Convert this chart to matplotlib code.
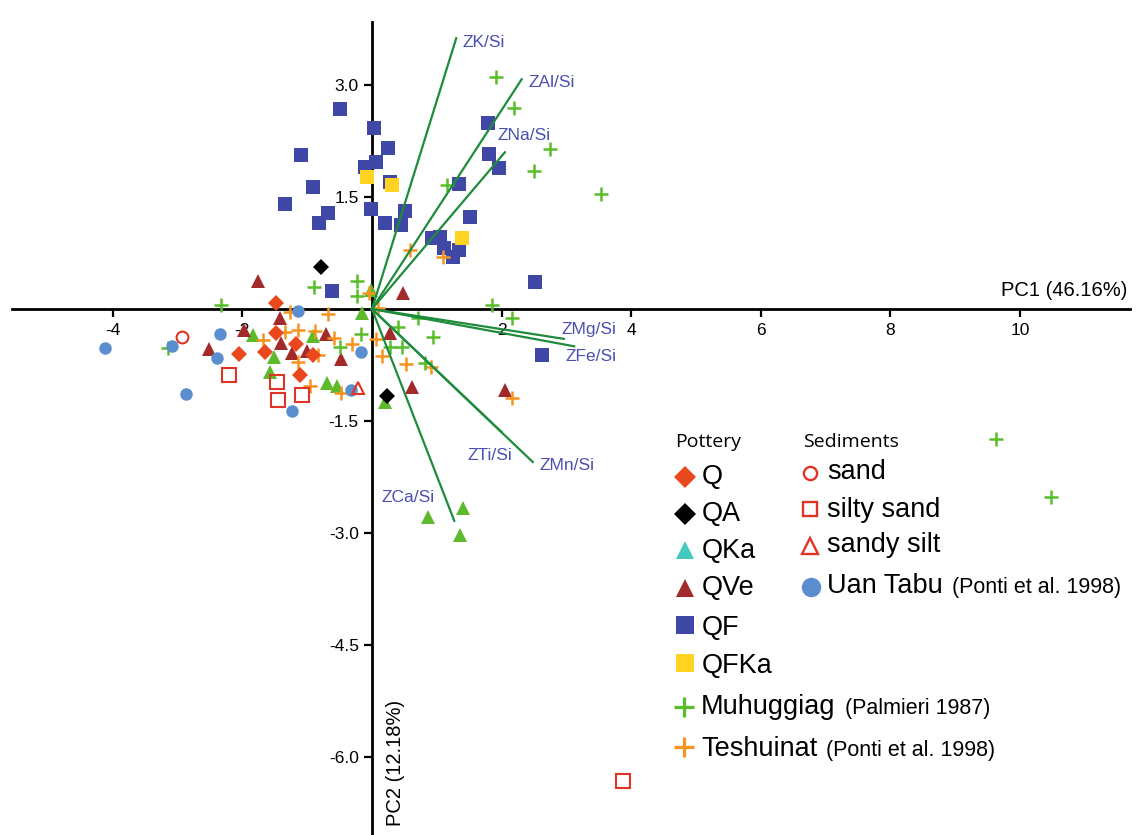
import matplotlib.pyplot as plt
from matplotlib.lines import Line2D

plt.rcParams['font.family'] = ['Liberation Sans', 'DejaVu Sans']
plt.rcParams['axes.unicode_minus'] = False

# PCA scores (PC1, PC2)
q_x = [-1.48, -1.48, -2.05, -1.65, -1.17, -0.91, -1.11]
q_y = [0.08, -0.32, -0.60, -0.58, -0.47, -0.62, -0.88]

qa_x = [-0.79, 0.23]
qa_y = [0.56, -1.17]

qka_x = [-1.84, -0.91, -1.51, -1.57, -0.69, -0.54, -0.15, -0.02, 0.20, 0.86, 1.40, 1.36]
qka_y = [-0.35, -0.36, -0.64, -0.84, -0.99, -1.03, -0.05, 0.25, -1.25, -2.79, -2.67, -3.03]

qve_x = [-1.76, -2.52, -1.98, -1.42, -1.40, -1.23, -1.00, -0.71, -0.48, 0.48, 0.28, 0.62, 2.05]
qve_y = [0.38, -0.54, -0.28, -0.12, -0.46, -0.59, -0.56, -0.34, -0.67, 0.21, -0.32, -1.05, -1.09]

qf_x = [-0.49, 0.03, 0.25, -1.10, -0.11, 0.06, -0.91, 0.28, -1.34, -0.68, -0.02, -0.82, 0.20, 0.51,
        0.45, -0.62, 1.79, 1.81, 1.96, 1.34, 1.51, 0.93, 1.05, 1.11, 1.34, 1.25, 2.52, 2.62]
qf_y = [2.68, 2.43, 2.16, 2.06, 1.90, 1.97, 1.64, 1.70, 1.41, 1.29, 1.34, 1.15, 1.15, 1.31,
        1.13, 0.24, 2.49, 2.08, 1.89, 1.68, 1.23, 0.95, 0.97, 0.82, 0.79, 0.70, 0.36, -0.62]

qfka_x = [-0.08, 0.31, 1.39]
qfka_y = [1.77, 1.66, 0.95]

muh_x = [-2.33, -3.15, -0.90, -0.23, -0.23, -0.17, -0.49, 0.71, 0.40, 0.94, 0.28, 0.46, 0.82,
         1.85, 2.16, 1.91, 2.19, 2.75, 2.50, 3.53, 1.16, 9.63, 10.48]
muh_y = [0.05, -0.52, 0.29, 0.38, 0.17, -0.34, -0.51, -0.12, -0.24, -0.38, -0.51, -0.51, -0.72,
         0.05, -0.12, 3.11, 2.69, 2.14, 1.85, 1.54, 1.66, -1.74, -2.52]

tes_x = [-1.27, -0.68, -1.68, -1.34, -1.14, -0.88, -0.59, -0.31, 0.06, -0.83, -1.14, -0.96, -0.48,
         0.09, -0.05, 0.15, 0.52, 0.91, 2.16, 0.59, 1.10]
tes_y = [-0.04, -0.07, -0.42, -0.31, -0.28, -0.29, -0.39, -0.47, -0.40, -0.62, -0.71, -1.03, -1.13,
         0.01, 0.21, -0.63, -0.74, -0.78, -1.19, 0.79, 0.70]

uan_x = [-4.12, -3.09, -2.35, -2.39, -2.87, -1.14, -0.17, -0.32, -1.23]
uan_y = [-0.52, -0.50, -0.34, -0.66, -1.14, -0.03, -0.58, -1.09, -1.37]

sand_x = [-2.93]
sand_y = [-0.38]
silty_x = [-2.21, -1.47, -1.45, -1.08, 3.87]
silty_y = [-0.88, -0.98, -1.22, -1.15, -6.33]
sandysilt_x = [-0.22]
sandysilt_y = [-1.06]

# loadings: end of arrow and label anchor
vec_names = ['ZK/Si', 'ZAl/Si', 'ZNa/Si', 'ZMg/Si', 'ZFe/Si', 'ZMn/Si', 'ZTi/Si', 'ZCa/Si']
vec_x = [1.30, 2.31, 2.05, 2.96, 3.12, 2.48, 2.00, 1.27]
vec_y = [3.63, 3.08, 2.10, -0.40, -0.50, -2.05, -1.65, -2.84]
lab_x = [1.39, 2.41, 1.93, 2.92, 2.98, 2.58, 1.48, 0.15]
lab_y = [3.57, 3.04, 2.33, -0.27, -0.64, -2.10, -1.96, -2.53]

xticks = [-4, -2, 2, 4, 6, 8, 10]
yticks = [3.0, 1.5, -1.5, -3.0, -4.5, -6.0]

c_q = '#E8481C'
c_qka = '#5DBB2B'
c_qka_key = '#45C8BE'
c_qve = '#A32A2A'
c_qf = '#3F48A6'
c_qfka = '#FFD320'
c_muh = '#58BE2B'
c_tes = '#F7941E'
c_uan = '#5B8ECF'
c_sed = '#E03526'
c_vec = '#1E8C3C'
c_lab = '#4A50B0'

W, H = 1145, 835
fig = plt.figure(figsize=(W / 100, H / 100), dpi=100)
ax = fig.add_axes([0, 0, 1, 1])
ax.set_xlim(-372 / 64.8, (W - 372) / 64.8)
ax.set_ylim((309 - H) / 74.6, 309 / 74.6)

for s in ['top', 'right']:
    ax.spines[s].set_visible(False)
ax.spines['left'].set_position(('data', 0))
ax.spines['bottom'].set_position(('data', 0))
ax.spines['left'].set_linewidth(2)
ax.spines['bottom'].set_linewidth(2)
ax.spines['bottom'].set_bounds(-5.56, 11.70)
ax.spines['left'].set_bounds(-7.1, 3.85)

ax.set_xticks(xticks)
ax.set_xticklabels([str(t) for t in xticks])
ax.set_yticks(yticks)
ax.set_yticklabels(['%.1f' % t for t in yticks])
ax.tick_params(axis='x', direction='out', length=6, width=1.6, labelsize=12.5, pad=4)
ax.tick_params(axis='y', direction='out', length=6, width=1.6, labelsize=12.5, pad=3.5)

pk = dict(ls='none')
ax.plot(qf_x, qf_y, marker='s', ms=10, color=c_qf, mew=0, zorder=3, **pk)
ax.plot(qfka_x, qfka_y, marker='s', ms=10, color=c_qfka, mew=0, zorder=3, **pk)
ax.plot(qka_x, qka_y, marker='^', ms=9.5, color=c_qka, mew=0, zorder=3, **pk)
ax.plot(qve_x, qve_y, marker='^', ms=9.5, color=c_qve, mew=0, zorder=3, **pk)
ax.plot(tes_x, tes_y, marker='+', ms=10.5, color=c_tes, mew=1.8, zorder=3, **pk)
ax.plot(muh_x, muh_y, marker='+', ms=10.5, color=c_muh, mew=1.8, zorder=3, **pk)
ax.plot(q_x, q_y, marker='D', ms=8.3, color=c_q, mew=0, zorder=3, **pk)
ax.plot(qa_x, qa_y, marker='D', ms=8.3, color='black', mew=0, zorder=3, **pk)
ax.plot(uan_x, uan_y, marker='o', ms=9, color=c_uan, mew=0, zorder=4, **pk)
ax.plot(sand_x, sand_y, marker='o', ms=8.5, mfc='none', mec=c_sed, mew=1.5, zorder=4, **pk)
ax.plot(silty_x, silty_y, marker='s', ms=9.5, mfc='none', mec=c_sed, mew=1.5, zorder=4, **pk)
ax.plot(sandysilt_x, sandysilt_y, marker='^', ms=9, mfc='none', mec=c_sed, mew=1.5, zorder=4, **pk)

for name, vx, vy, tx, ty in zip(vec_names, vec_x, vec_y, lab_x, lab_y):
    ax.plot([0, vx], [0, vy], color=c_vec, lw=1.6, zorder=5)
    ax.text(tx, ty, name, color=c_lab, fontsize=12.5, ha='left', va='center', zorder=6)

ax.text(11.65, 0.25, 'PC1 (46.16%)', fontsize=14.5, ha='right', va='center')
ax.text(0.37, -6.08, 'PC2 (12.18%)', fontsize=14.5, rotation=90, ha='center', va='center')

# legend, drawn by hand in pixel positions
def key(px, py, marker, color, ms, filled=True, mew=0):
    fig.add_artist(Line2D([px / W], [1 - py / H], marker=marker, ms=ms, ls='none',
                          mfc=color if filled else 'none', mec=color, mew=mew,
                          transform=fig.transFigure))

def label(px, py, txt, size=19.5, note=None, family=None):
    kw = {'family': family} if family else {}
    t = fig.text(px / W, 1 - py / H, txt, fontsize=size, ha='left', va='baseline', **kw)
    if note:
        fig.canvas.draw()
        bb = t.get_window_extent()
        fig.text((bb.x1 + 9) / W, 1 - py / H, note, fontsize=15.5, ha='left', va='baseline')

label(675, 447, 'Pottery', size=14, family=['Open Sans', 'DejaVu Sans'])
label(803, 447, 'Sediments', size=14, family=['Open Sans', 'DejaVu Sans'])

pottery = [('Q', 'D', c_q, 11, 477, 484),
           ('QA', 'D', 'black', 11, 514, 521),
           ('QKa', '^', c_qka_key, 12.5, 550, 558),
           ('QVe', '^', c_qve, 12.5, 588, 595),
           ('QF', 's', c_qf, 12.3, 625, 635),
           ('QFKa', 's', c_qfka, 12.3, 663, 673)]
for txt, m, c, ms, my, ty in pottery:
    key(685, my, m, c, ms)
    label(702, ty, txt)

key(684, 707, '+', c_muh, 14.5, mew=2.3)
label(701, 714, 'Muhuggiag', note='(Palmieri 1987)')
key(684, 747, '+', c_tes, 14.5, mew=2.3)
label(701, 756, 'Teshuinat', note='(Ponti et al. 1998)')

key(810, 473, 'o', c_sed, 9.5, filled=False, mew=1.7)
label(827, 479, 'sand')
key(810, 509, 's', c_sed, 10, filled=False, mew=1.7)
label(827, 517, 'silty sand')
key(810, 546, '^', c_sed, 11, filled=False, mew=1.7)
label(827, 552, 'sandy silt')
key(811, 587, 'o', c_uan, 14)
label(827, 593, 'Uan Tabu', note='(Ponti et al. 1998)')

fig.savefig('out.png', dpi=100)
